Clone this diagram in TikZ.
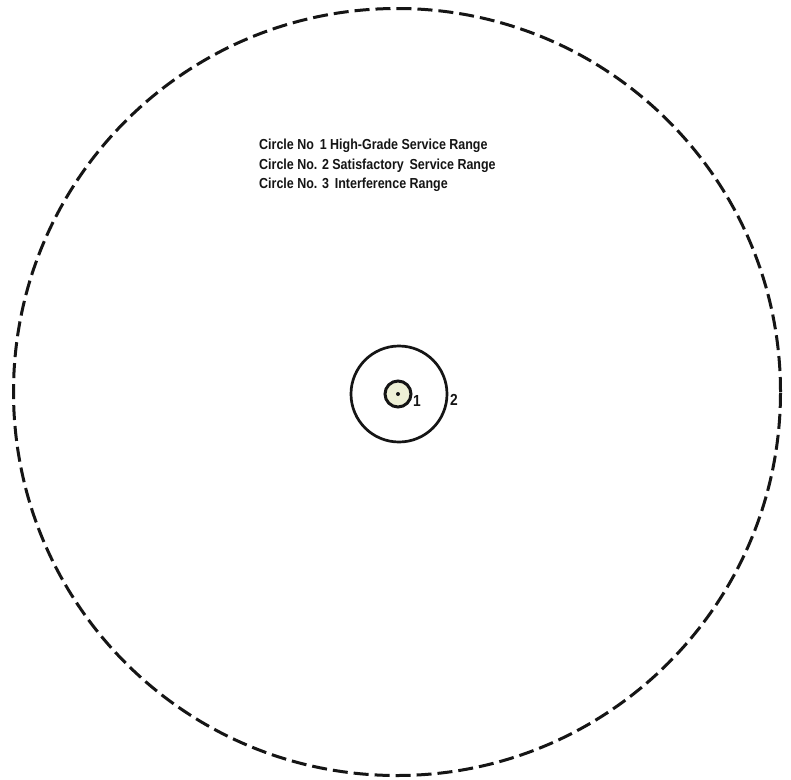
\documentclass[tikz,border=0pt]{standalone}
\usepackage{fontspec}
\setmainfont{Liberation Sans}[FakeStretch=0.86]
\definecolor{ink}{HTML}{151515}
\definecolor{cream}{HTML}{EEF0D6}
\tikzset{
  outerring/.style={draw=ink, line width=3pt, dash pattern=on 15pt off 6pt},
  ring/.style={draw=ink, line width=2.7pt},
  lbl/.style={font=\bfseries\fontsize{16}{18}\selectfont, text=ink, inner sep=0pt},
  legend/.style={font=\bfseries\fontsize{14.5}{19.5}\selectfont, text=ink, inner sep=0pt, anchor=west, align=left}
}
\begin{document}
\begin{tikzpicture}[x=1pt,y=-1pt]
\useasboundingbox (0,0) rectangle (791,779);
\fill[white] (0,0) rectangle (791,779);
\node[circle, outerring, minimum size=767pt, inner sep=0pt] (c3) at (397,392) {};
\node[circle, ring, minimum size=96pt, inner sep=0pt] (c2) at (399,394) {};
\node[circle, ring, line width=3pt, fill=cream, minimum size=26pt, inner sep=0pt] (c1) at (398,394) {};
\node[circle, fill=ink, minimum size=4pt, inner sep=0pt] (tx) at (c1.center) {};
\node[lbl] (l1) at (417,401) {1};
\node[lbl] (l2) at (454,400) {2};
\node[legend] (leg1) at (259,146) {Circle No\, 1 High-Grade Service Range};
\node[legend] (leg2) at (259,166) {Circle No. 2 Satisfactory\, Service Range};
\node[legend] (leg3) at (259,185) {Circle No. 3\, Interference Range};
\end{tikzpicture}
\end{document}
